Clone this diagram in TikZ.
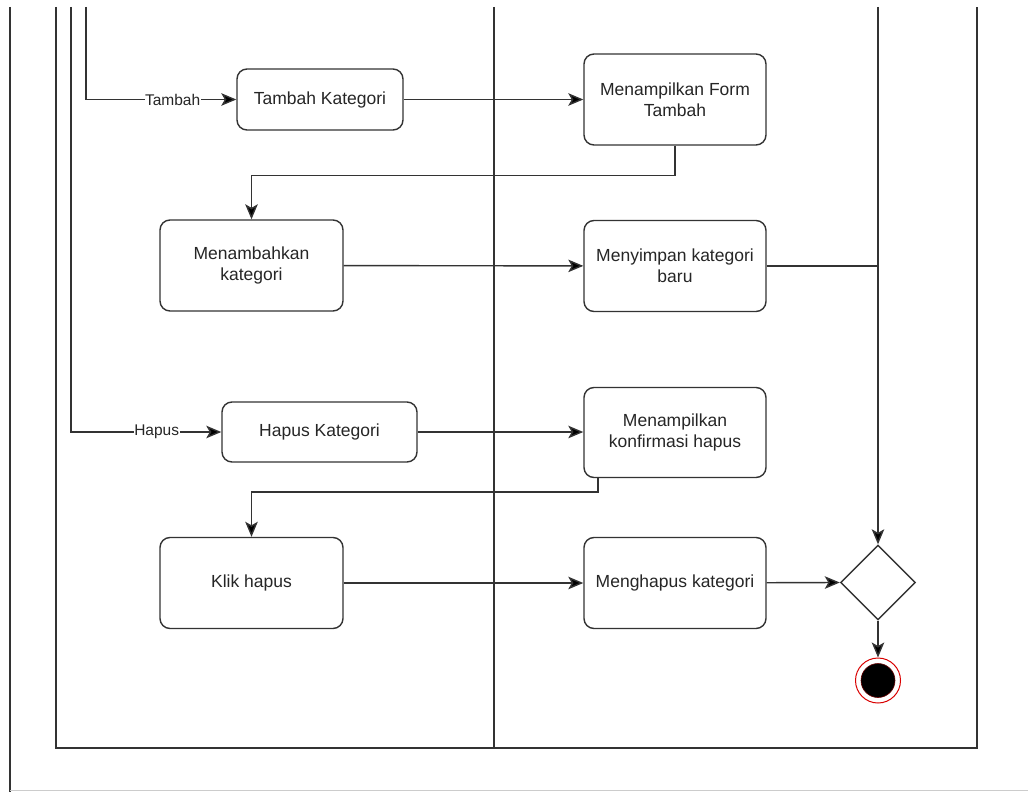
\documentclass[tikz,border=0pt]{standalone}
\usepackage{fontspec}
\setmainfont{Liberation Sans}
\usetikzlibrary{arrows.meta,shapes.geometric,calc}
\definecolor{ln}{HTML}{333333}
\begin{document}
\begin{tikzpicture}[x=1pt,y=-1pt,
  act/.style={draw=ln,line width=1.4pt,rounded corners=10pt,fill=white,align=center,
    font=\fontsize{17.5}{21}\selectfont,text=black!85,inner sep=0pt},
  frame/.style={draw=ln,line width=1.4pt},
  arr/.style={draw=ln,line width=1.4pt,-{Stealth[length=15pt,width=12.5pt,inset=3.5pt,fill=black]}},
  conn/.style={draw=ln,line width=1.4pt},
  lbl/.style={fill=white,inner sep=0.5pt,font=\fontsize{15.5}{18}\selectfont,text=black!85}]
\useasboundingbox (0,0) rectangle (1028,792);
% frame
\coordinate (f1a) at (10,7); \coordinate (f1b) at (10,792);
\coordinate (f2a) at (56,7); \coordinate (f2b) at (56,748);
\coordinate (f3a) at (977,7); \coordinate (f3b) at (977,748);
\coordinate (f4a) at (494,7); \coordinate (f4b) at (494,748);
\coordinate (pb1) at (10,790); \coordinate (pb2) at (1028,790);
\draw[frame] (f1a) -- (f1b);
\draw[frame] (f2a) -- (f2b) -- (f3b) -- (f3a);
\draw[frame] (f4a) -- (f4b);
\draw[gray!40,line width=1pt] (pb1) -- (pb2);
% nodes
\node[act,minimum width=166pt,minimum height=61pt] (tk) at (320,99.5) {Tambah Kategori};
\node[act,minimum width=182pt,minimum height=91pt] (mft) at (675,99.5) {Menampilkan Form\\Tambah};
\node[act,minimum width=183pt,minimum height=91pt] (mk) at (251.5,265.5) {Menambahkan\\kategori};
\node[act,minimum width=182pt,minimum height=91pt] (mkb) at (675,266) {Menyimpan kategori\\baru};
\node[act,minimum width=195pt,minimum height=60pt] (hk) at (319.5,432) {Hapus Kategori};
\node[act,minimum width=182pt,minimum height=90pt] (mkh) at (675,432.5) {Menampilkan\\konfirmasi hapus};
\node[act,minimum width=183pt,minimum height=91pt] (kh) at (251.5,583) {Klik hapus};
\node[act,minimum width=182pt,minimum height=91pt] (mh) at (675,583) {Menghapus kategori};
\node[draw=ln,line width=1.4pt,diamond,fill=white,minimum width=75pt,minimum height=75pt,inner sep=0pt] (dia) at (878,582.5) {};
\node[circle,draw=red!85!black,line width=1pt,fill=white,minimum size=45pt,inner sep=0pt] (fin) at (878,680.5) {};
\node[circle,fill=black,draw=red!40!black,line width=0.6pt,minimum size=34pt,inner sep=0pt] (finc) at (fin) {};
% connectors
\coordinate (s86) at (86,7);
\coordinate (s71) at (71,7);
\coordinate (s878) at (878,7);
\coordinate (j1) at (878,266);
\coordinate (y175) at (0,175.5);
\coordinate (y492) at (0,492);
\coordinate (x598) at (598,0);
\draw[arr] (s86) |- (tk.west) node[lbl,pos=0.788] (ltam) {Tambah};
\draw[arr] (s71) |- (hk.west) node[lbl,pos=0.785] (lhap) {Hapus};
\draw[arr] (tk) -- (mft);
\draw[arr] (mft.south) -- (mft.south |- y175) -| (mk.north);
\draw[arr] (mk) -- (mkb);
\draw[conn] (mkb.east) -- (j1);
\draw[arr] (s878) -- (dia.north);
\draw[arr] (hk.east) -- (hk.east -| mkh.west);
\draw[arr] (mkh.south -| x598) -- (x598 |- y492) -| (kh.north);
\draw[arr] (kh) -- (mh);
\draw[arr] (mh) -- (dia.west);
\draw[arr] (dia.south) -- (fin.north);
\end{tikzpicture}
\end{document}
